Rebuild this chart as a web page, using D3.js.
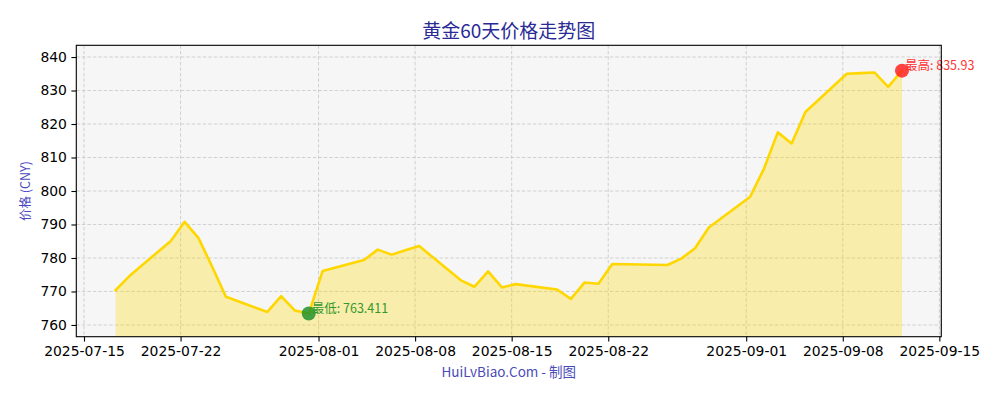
<!DOCTYPE html>
<html>
<head>
<meta charset="utf-8">
<script src="https://cdn.jsdelivr.net/npm/d3@7"></script>
<style>
  body { margin: 0; background: #ffffff; }
  svg { display: block; }
  .tick text { font-family: "DejaVu Sans", sans-serif; font-size: 13.9px; fill: #000; }
  .cjk { font-family: "Noto Sans CJK SC", "DejaVu Sans", sans-serif; }
</style>
</head>
<body>
<svg id="chart" width="1000" height="400"></svg>
<script>
// data: trading days and gold price (CNY / gram)
const dates = [
  "2025-07-17", "2025-07-18", "2025-07-21", "2025-07-22", "2025-07-23", "2025-07-24", "2025-07-25",
  "2025-07-28", "2025-07-29", "2025-07-30", "2025-07-31", "2025-08-01",
  "2025-08-04", "2025-08-05", "2025-08-06", "2025-08-07", "2025-08-08",
  "2025-08-11", "2025-08-12", "2025-08-13", "2025-08-14", "2025-08-15",
  "2025-08-18", "2025-08-19", "2025-08-20", "2025-08-21", "2025-08-22",
  "2025-08-25", "2025-08-26", "2025-08-27", "2025-08-28", "2025-08-29",
  "2025-09-01", "2025-09-02", "2025-09-03", "2025-09-04", "2025-09-05",
  "2025-09-08", "2025-09-09", "2025-09-10", "2025-09-11", "2025-09-12"
];
const prices = [
  770.4, 774.6, 785.1, 790.8, 786.0, 777.4, 768.4,
  763.9, 768.6, 764.3, 763.411, 776.1,
  779.4, 782.5, 781.0, 782.3, 783.6,
  773.4, 771.4, 776.0, 771.2, 772.2,
  770.6, 767.8, 772.7, 772.3, 778.2,
  778.0, 777.9, 779.8, 782.9, 789.1,
  798.3, 806.7, 817.5, 814.2, 823.6,
  835.0, 835.2, 835.4, 831.1, 835.93
];
const xTickLabels = ["2025-07-15", "2025-07-22", "2025-08-01", "2025-08-08", "2025-08-15",
  "2025-08-22", "2025-09-01", "2025-09-08", "2025-09-15"];
const yTickValues = [760, 770, 780, 790, 800, 810, 820, 830, 840];
const yLimits = [756.5, 843.5];
const sampleHour = 7; // quotes are stamped in the morning

const title = "黄金60天价格走势图";
const yLabel = "价格 (CNY)";
const footer = "HuiLvBiao.Com - 制图";

const parseDay = d3.timeParse("%Y-%m-%d");
const data = dates.map((d, i) => ({date: d3.timeHour.offset(parseDay(d), sampleHour), value: prices[i]}));

const svg = d3.select("#chart");
const axLeft = 76.3, axRight = 941.3, axTop = 45.3, axBottom = 336.7;

// x domain with matplotlib style 5% margins
const ext = d3.extent(data, d => d.date);
const pad = (ext[1] - ext[0]) * 0.05;
const x = d3.scaleTime()
  .domain([new Date(+ext[0] - pad), new Date(+ext[1] + pad)])
  .range([axLeft, axRight]);
const y = d3.scaleLinear().domain(yLimits).range([axBottom, axTop]);

// plot background
svg.append("rect")
  .attr("x", axLeft).attr("y", axTop)
  .attr("width", axRight - axLeft).attr("height", axBottom - axTop)
  .attr("fill", "#f6f6f6");

// grid
const xTicks = xTickLabels.map(parseDay);
const grid = svg.append("g").attr("stroke", "#c6c6c6").attr("stroke-width", 0.8)
  .attr("stroke-dasharray", "3.5,2");
grid.selectAll(".gx").data(xTicks).join("line")
  .attr("x1", d => x(d)).attr("x2", d => x(d))
  .attr("y1", axTop).attr("y2", axBottom);
grid.selectAll(".gy").data(yTickValues).join("line")
  .attr("x1", axLeft).attr("x2", axRight)
  .attr("y1", d => y(d)).attr("y2", d => y(d));

// area + line
const area = d3.area()
  .x(d => x(d.date))
  .y0(y(yLimits[0]))
  .y1(d => y(d.value));
svg.append("path").datum(data)
  .attr("d", area)
  .attr("fill", "#FFD700")
  .attr("fill-opacity", 0.3);

const line = d3.line().x(d => x(d.date)).y(d => y(d.value));
svg.append("path").datum(data)
  .attr("d", line)
  .attr("fill", "none")
  .attr("stroke", "#FFD700")
  .attr("stroke-width", 2.6)
  .attr("stroke-linejoin", "round")
  .attr("stroke-linecap", "square");

// min / max markers
const maxPt = data.reduce((a, b) => b.value > a.value ? b : a);
const minPt = data.reduce((a, b) => b.value < a.value ? b : a);

function marker(pt, color, textColor, label) {
  svg.append("circle")
    .attr("cx", x(pt.date)).attr("cy", y(pt.value))
    .attr("r", 7)
    .attr("fill", color)
    .attr("fill-opacity", 0.85);
  svg.append("text")
    .attr("class", "cjk")
    .attr("x", x(pt.date) + 3)
    .attr("y", y(pt.value) - 1)
    .attr("font-size", "12.5px")
    .attr("fill", textColor)
    .text(label + ": " + pt.value);
}
marker(maxPt, "#ff2222", "#ff3333", "最高");
marker(minPt, "#22922a", "#33992a", "最低");

// axes
svg.append("g")
  .attr("transform", `translate(0,${axBottom})`)
  .call(d3.axisBottom(x).tickValues(xTicks).tickFormat(d3.timeFormat("%Y-%m-%d"))
    .tickSize(4.9).tickPadding(4.5))
  .call(g => g.select(".domain").remove())
  .call(g => g.selectAll(".tick line").attr("stroke", "#000").attr("stroke-width", 1.1));

svg.append("g")
  .attr("transform", `translate(${axLeft},0)`)
  .call(d3.axisLeft(y).tickValues(yTickValues).tickSize(4.9).tickPadding(4.5))
  .call(g => g.select(".domain").remove())
  .call(g => g.selectAll(".tick line").attr("stroke", "#000").attr("stroke-width", 1.1));

// frame
svg.append("rect")
  .attr("x", axLeft).attr("y", axTop)
  .attr("width", axRight - axLeft).attr("height", axBottom - axTop)
  .attr("fill", "none")
  .attr("stroke", "#000")
  .attr("stroke-width", 1.1);

// texts
svg.append("text")
  .attr("class", "cjk")
  .attr("x", (axLeft + axRight) / 2).attr("y", 37.5)
  .attr("text-anchor", "middle")
  .attr("font-size", "19px")
  .attr("fill", "#2a2a96")
  .text(title);

svg.append("text")
  .attr("class", "cjk")
  .attr("transform", `translate(30,${(axTop + axBottom) / 2}) rotate(-90)`)
  .attr("text-anchor", "middle")
  .attr("font-size", "12.5px")
  .attr("fill", "#4a4ac0")
  .text(yLabel);

svg.append("text")
  .attr("class", "cjk")
  .attr("x", (axLeft + axRight) / 2).attr("y", 377)
  .attr("text-anchor", "middle")
  .attr("font-size", "13.5px")
  .attr("fill", "#4a4ab8")
  .text(footer);
</script>
</body>
</html>
